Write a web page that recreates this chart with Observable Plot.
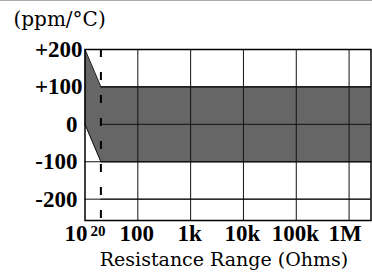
<!DOCTYPE html>
<html>
<head>
<meta charset="utf-8">
<script src="https://cdn.jsdelivr.net/npm/d3@7"></script>
<script src="https://cdn.jsdelivr.net/npm/@observablehq/plot@0.6"></script>
<style>
  html, body { margin: 0; padding: 0; background: #fff; }
  #wrap { position: relative; width: 372px; height: 273px; }
  #topline { position: absolute; left: 0; top: 0; width: 372px; height: 1px; background: #aaa; }
</style>
</head>
<body>
<div id="wrap"><div id="topline"></div></div>
<script>
// Data
const xDomain = [10, 2.6e6];
const yDomain = [-257, 200];
const minResistance = 20;
const bandX = [10, 20, 2.6e6];
const bandLow = [0, -100, -100];
const bandHigh = [200, 100, 100];
const xGrid = [100, 1e3, 1e4, 1e5, 1e6];
const yGrid = [100, 0, -100, -200];
const xTickMid = [100, 1e3, 1e4, 1e5];
const xTickLabels = new Map([[10, "10"], [20, "20"], [100, "100"], [1e3, "1k"], [1e4, "10k"], [1e5, "100k"], [1e6, "1M"]]);
const yTickLabels = new Map([[200, "+200"], [100, "+100"], [0, "0"], [-100, "-100"], [-200, "-200"]]);
const yTitle = "(ppm/°C)";
const xTitle = "Resistance Range (Ohms)";

const band = bandX.map((x, i) => ({x, lo: bandLow[i], hi: bandHigh[i]}));
const txt = {fill: "#000", fontWeight: "bold", fontFamily: "Liberation Serif"};
const ttl = {fill: "#000", fontFamily: "DejaVu Serif"};

const chart = Plot.plot({
  width: 372,
  height: 273,
  marginLeft: 84.5,
  marginRight: 1.5,
  marginTop: 49,
  marginBottom: 53,
  style: {background: "white", overflow: "visible"},
  x: {type: "log", domain: xDomain},
  y: {type: "linear", domain: yDomain},
  marks: [
    Plot.ruleY(yGrid, {stroke: "#111", strokeWidth: 1}),
    Plot.areaY(band, {x: "x", y1: "lo", y2: "hi", fill: "#666", curve: "linear"}),
    Plot.lineY(band, {x: "x", y: "hi", stroke: "#111", strokeWidth: 1}),
    Plot.lineY(band, {x: "x", y: "lo", stroke: "#111", strokeWidth: 1}),
    Plot.ruleY(yGrid, {y: d => d, x1: minResistance, x2: xDomain[1], stroke: "#111", strokeWidth: 1}),
    Plot.ruleX(xGrid, {stroke: "#111", strokeWidth: 1}),
    Plot.ruleX([minResistance], {stroke: "#000", strokeWidth: 2, strokeDasharray: "8,15"}),
    Plot.frame({stroke: "#000", strokeWidth: 1.5}),
    Plot.axisY([200, 100], {tickSize: 0, tickPadding: 2.5, tickFormat: d => yTickLabels.get(d), fontSize: 23, ...txt, label: null}),
    Plot.axisY([0, -100, -200], {tickSize: 0, tickPadding: 7.5, tickFormat: d => yTickLabels.get(d), fontSize: 23, ...txt, label: null}),
    Plot.axisX([10], {tickSize: 0, tickPadding: 4.5, dx: -9, tickFormat: d => xTickLabels.get(d), fontSize: 23, ...txt, label: null}),
    Plot.axisX(xTickMid, {tickSize: 0, tickPadding: 4.5, dx: -1, tickFormat: d => xTickLabels.get(d), fontSize: 23, ...txt, label: null}),
    Plot.axisX([1e6], {tickSize: 0, tickPadding: 4.5, dx: -4, tickFormat: d => xTickLabels.get(d), fontSize: 23, ...txt, label: null}),
    Plot.text([minResistance], {x: d => d, text: d => xTickLabels.get(d), frameAnchor: "bottom", textAnchor: "middle", lineAnchor: "top", dx: -3, dy: 4.5, fontSize: 15, ...txt}),
    Plot.text([yTitle], {frameAnchor: "top-left", textAnchor: "start", lineAnchor: "middle", dx: -71.5, dy: -29.5, fontSize: 20, ...ttl}),
    Plot.text([xTitle], {frameAnchor: "bottom", textAnchor: "middle", lineAnchor: "middle", dx: -4, dy: 39, fontSize: 19, ...ttl})
  ]
});
document.getElementById("wrap").appendChild(chart);
</script>
</body>
</html>
